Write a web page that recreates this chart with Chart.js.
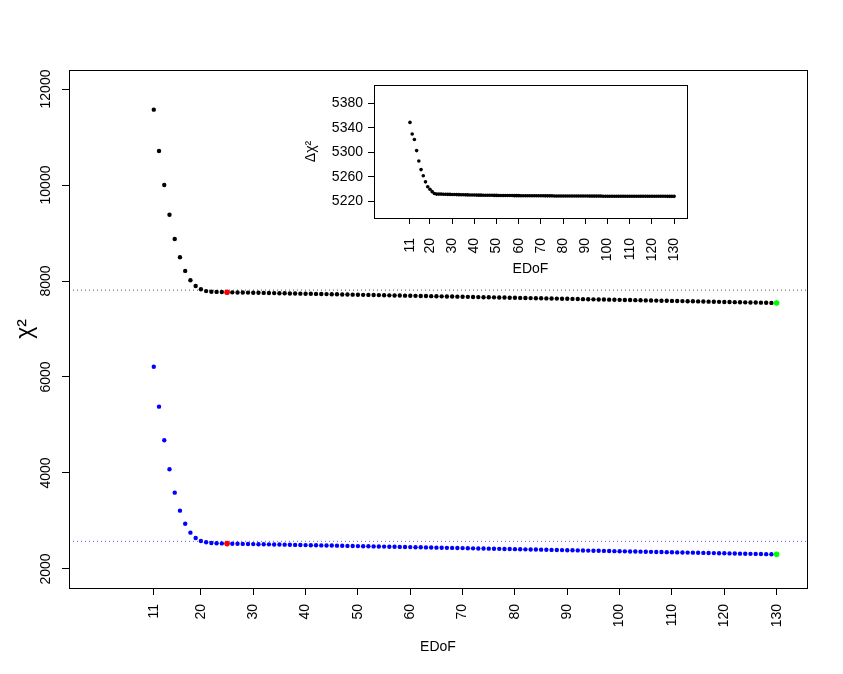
<!DOCTYPE html>
<html>
<head>
<meta charset="utf-8">
<script src="https://cdn.jsdelivr.net/npm/chart.js@4"></script>
<style>
  body { margin: 0; background: #fff; }
  #wrap { position: relative; width: 843px; height: 674px; }
  #mainChart { position: absolute; left: 0; top: 0; }
  #insetChart { position: absolute; left: 295px; top: 78px; }
</style>
</head>
<body>
<div id="wrap">
  <canvas id="mainChart" width="843" height="674"></canvas>
  <canvas id="insetChart" width="405" height="207"></canvas>
</div>
<script>
// EDoF values 11..130
const edof = Array.from({ length: 120 }, (_, i) => 11 + i);

const chi2Upper = [
  11570, 10710, 10000, 9380, 8875, 8495, 8210, 8015, 7895, 7827,
  7790, 7777, 7773, 7770, 7766,
  7764, 7762, 7760, 7758, 7756, 7754, 7752, 7750, 7748, 7746,
  7744, 7741, 7739, 7737, 7735, 7733, 7731, 7729, 7727, 7725,
  7723, 7720, 7718, 7716, 7714, 7712, 7710, 7708, 7706, 7704,
  7701, 7699, 7697, 7695, 7693, 7691, 7689, 7687, 7684, 7682,
  7680, 7678, 7676, 7674, 7672, 7670, 7667, 7665, 7663, 7661,
  7659, 7657, 7655, 7652, 7650, 7648, 7646, 7644, 7642, 7640,
  7637, 7635, 7633, 7631, 7629, 7627, 7624, 7622, 7620, 7618,
  7616, 7614, 7611, 7609, 7607, 7605, 7603, 7601, 7598, 7596,
  7594, 7592, 7590, 7588, 7585, 7583, 7581, 7579, 7577, 7575,
  7572, 7570, 7568, 7566, 7564, 7562, 7559, 7557, 7555, 7553,
  7551, 7549, 7546, 7544, 7542
];

const chi2Lower = [
  6215, 5382, 4682, 4078, 3590, 3215, 2944, 2757, 2646, 2583,
  2556, 2542, 2536, 2533, 2529,
  2527, 2525, 2523, 2521, 2519, 2517, 2515, 2513, 2511, 2509,
  2507, 2504, 2502, 2500, 2498, 2496, 2494, 2492, 2490, 2488,
  2486, 2483, 2481, 2479, 2477, 2475, 2473, 2471, 2469, 2467,
  2464, 2462, 2460, 2458, 2456, 2454, 2452, 2450, 2447, 2445,
  2443, 2441, 2439, 2437, 2435, 2433, 2430, 2428, 2426, 2424,
  2422, 2420, 2418, 2415, 2413, 2411, 2409, 2407, 2405, 2403,
  2400, 2398, 2396, 2394, 2392, 2390, 2387, 2385, 2383, 2381,
  2379, 2377, 2374, 2372, 2370, 2368, 2366, 2364, 2361, 2359,
  2357, 2355, 2353, 2351, 2348, 2346, 2344, 2342, 2340, 2338,
  2335, 2333, 2331, 2329, 2327, 2325, 2322, 2320, 2318, 2316,
  2314, 2312, 2309, 2307, 2305
];

const deltaChi2 = [
  5349, 5330, 5321, 5303, 5286, 5272, 5262, 5252, 5244, 5240,
  5236, 5233, 5232, 5232, 5232,
  5231.8, 5231.7, 5231.6, 5231.5, 5231.4, 5231.3, 5231.2, 5231.1, 5231.0, 5230.9,
  5230.8, 5230.7, 5230.6, 5230.5, 5230.5, 5230.4, 5230.3, 5230.3, 5230.2, 5230.1,
  5230.1, 5230.0, 5230.0, 5229.9, 5229.9, 5229.8, 5229.8, 5229.7, 5229.7, 5229.6,
  5229.6, 5229.6, 5229.5, 5229.5, 5229.5, 5229.4, 5229.4, 5229.4, 5229.3, 5229.3,
  5229.3, 5229.3, 5229.2, 5229.2, 5229.2, 5229.2, 5229.1, 5229.1, 5229.1, 5229.1,
  5229.0, 5229.0, 5229.0, 5229.0, 5229.0, 5228.9, 5228.9, 5228.9, 5228.9, 5228.9,
  5228.8, 5228.8, 5228.8, 5228.8, 5228.8, 5228.8, 5228.7, 5228.7, 5228.7, 5228.7,
  5228.7, 5228.7, 5228.6, 5228.6, 5228.6, 5228.6, 5228.6, 5228.6, 5228.6, 5228.5,
  5228.5, 5228.5, 5228.5, 5228.5, 5228.5, 5228.5, 5228.5, 5228.5, 5228.5, 5228.5,
  5228.5, 5228.5, 5228.4, 5228.4, 5228.4, 5228.4, 5228.4, 5228.4, 5228.4, 5228.4,
  5228.4, 5228.3, 5228.3, 5228.3, 5228.3
];

const bestEdof = 25;
const lastEdof = 130;
const refUpper = 7810;
const refLower = 2577;

const xTicks = [11, 20, 30, 40, 50, 60, 70, 80, 90, 100, 110, 120, 130];
const yTicks = [2000, 4000, 6000, 8000, 10000, 12000];
const insetYTicks = [5220, 5260, 5300, 5340, 5380];

const xRange = [-5.2, 135.8];
const yRange = [1604, 12396];
const insetYRange = [5193, 5410];

const FONT = 'Liberation Sans, Arial, Helvetica, sans-serif';

const toPoints = ys => edof.map((x, i) => ({ x: x, y: ys[i] }));
const at = (ys, x) => ys[edof.indexOf(x)];

// box around the plot region, and optional rotated y tick labels
const frame = {
  id: 'frame',
  afterDraw(chart, args, opts) {
    const { ctx, chartArea: a } = chart;
    ctx.save();
    ctx.strokeStyle = '#000';
    ctx.lineWidth = 1;
    ctx.strokeRect(Math.round(a.left) + 0.5, Math.round(a.top) + 0.5,
      Math.round(a.right - a.left), Math.round(a.bottom - a.top));
    if (opts.rotY) {
      const ys = chart.scales.y;
      ctx.fillStyle = '#000';
      ctx.font = '14px ' + FONT;
      ctx.textAlign = 'center';
      ctx.textBaseline = 'middle';
      ys.ticks.forEach(t => {
        ctx.save();
        ctx.translate(opts.rotY, ys.getPixelForValue(t.value));
        ctx.rotate(-Math.PI / 2);
        ctx.fillText(String(t.value), 0, 0);
        ctx.restore();
      });
    }
    ctx.restore();
  }
};

const dots = (data, color, r) => ({
  data: data, backgroundColor: color, borderWidth: 0,
  pointRadius: r, pointHoverRadius: r
});

const refLine = (y, color) => ({
  data: [{ x: xRange[0], y: y }, { x: xRange[1], y: y }],
  showLine: true, borderColor: color, borderWidth: 1, borderDash: [1, 3],
  pointRadius: 0
});

new Chart(document.getElementById('mainChart'), {
  type: 'scatter',
  plugins: [frame],
  data: {
    datasets: [
      dots([{ x: bestEdof, y: at(chi2Upper, bestEdof) }, { x: bestEdof, y: at(chi2Lower, bestEdof) }], '#ff0000', 2.8),
      dots([{ x: lastEdof, y: at(chi2Upper, lastEdof) }, { x: lastEdof, y: at(chi2Lower, lastEdof) }], '#00ff00', 2.8),
      dots(toPoints(chi2Upper), '#000000', 2.2),
      dots(toPoints(chi2Lower), '#0000ff', 2.2),
      refLine(refUpper, '#555555'),
      refLine(refLower, '#5555ff')
    ]
  },
  options: {
    responsive: false,
    animation: false,
    layout: { padding: { left: 0, top: 70, right: 36, bottom: 0 } },
    plugins: { legend: { display: false }, tooltip: { enabled: false }, frame: { rotY: 46 } },
    scales: {
      x: {
        type: 'linear', min: xRange[0], max: xRange[1],
        afterBuildTicks: s => { s.ticks = xTicks.map(v => ({ value: v })); },
        afterFit: s => { s.height = 86; s.paddingLeft = 0; s.paddingRight = 0; },
        ticks: { autoSkip: false, minRotation: 90, maxRotation: 90, padding: 9,
          color: '#000', font: { family: FONT, size: 14 }, callback: v => String(v) },
        grid: { drawOnChartArea: false, tickLength: 7, color: '#000' },
        border: { display: false },
        title: { display: true, text: 'EDoF', color: '#000',
          font: { family: FONT, size: 14 }, padding: { top: 0, bottom: 18 } }
      },
      y: {
        type: 'linear', min: yRange[0], max: yRange[1],
        afterBuildTicks: s => { s.ticks = yTicks.map(v => ({ value: v })); },
        afterFit: s => { s.width = 69; s.paddingTop = 0; s.paddingBottom = 0; },
        ticks: { display: false },
        grid: { drawOnChartArea: false, tickLength: 7, color: '#000' },
        border: { display: false },
        title: { display: true, text: 'χ²', color: '#000',
          font: { family: FONT, size: 23 }, padding: { top: 12, bottom: 0 } }
      }
    }
  }
});

new Chart(document.getElementById('insetChart'), {
  type: 'scatter',
  plugins: [frame],
  data: {
    datasets: [dots(toPoints(deltaChi2), '#000000', 1.8)]
  },
  options: {
    responsive: false,
    animation: false,
    layout: { padding: { left: 0, top: 7, right: 13, bottom: 0 } },
    plugins: { legend: { display: false }, tooltip: { enabled: false } },
    scales: {
      x: {
        type: 'linear', min: xRange[0], max: xRange[1],
        afterBuildTicks: s => { s.ticks = xTicks.map(v => ({ value: v })); },
        afterFit: s => { s.height = 67; s.paddingLeft = 0; s.paddingRight = 0; },
        ticks: { autoSkip: false, minRotation: 90, maxRotation: 90, padding: 14,
          color: '#000', font: { family: FONT, size: 14 }, callback: v => String(v) },
        grid: { drawOnChartArea: false, tickLength: 6, color: '#000' },
        border: { display: false },
        title: { display: true, text: 'EDoF', color: '#000',
          font: { family: FONT, size: 14 }, padding: { top: 0, bottom: 7 } }
      },
      y: {
        type: 'linear', min: insetYRange[0], max: insetYRange[1],
        afterBuildTicks: s => { s.ticks = insetYTicks.map(v => ({ value: v })); },
        afterFit: s => { s.width = 79; s.paddingTop = 0; s.paddingBottom = 0; },
        ticks: { padding: 5, color: '#000', font: { family: FONT, size: 14 },
          callback: v => String(v) },
        grid: { drawOnChartArea: false, tickLength: 6, color: '#000' },
        border: { display: false },
        title: { display: true, text: 'Δχ²', color: '#000',
          font: { family: FONT, size: 14 }, padding: { top: 8, bottom: 0 } }
      }
    }
  }
});
</script>
</body>
</html>
